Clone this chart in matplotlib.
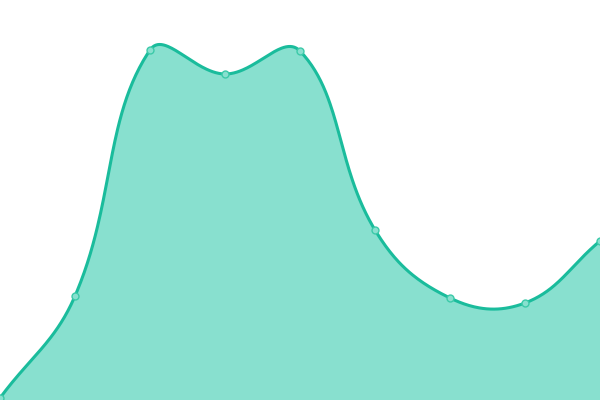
import numpy as np
import matplotlib
matplotlib.use("Agg")
import matplotlib.pyplot as plt

labels = ["A", "B", "C", "D", "E", "F", "G", "H", "I"]
values = [2, 104, 350, 326, 349, 170, 102, 97, 159]

LINE = "#1abc9c"
FILL = "#88e0cf"

fig = plt.figure(figsize=(6, 4), dpi=100)
ax = fig.add_axes([0, 0, 1, 1])
ax.set_xlim(0, len(values) - 1)
ax.set_ylim(0, 400)
ax.axis("off")

xs = np.arange(len(values), dtype=float)
pts = ax.transData.transform(np.column_stack([xs, values]))

# Chart.js style spline (tension 0.4) in display space
t = 0.4
n = len(pts)
cp_prev = np.zeros_like(pts)
cp_next = np.zeros_like(pts)
for i in range(n):
    prev = pts[i - 1] if i > 0 else pts[i]
    cur = pts[i]
    nxt = pts[i + 1] if i < n - 1 else pts[i]
    d01 = np.hypot(*(cur - prev))
    d12 = np.hypot(*(nxt - cur))
    tot = d01 + d12
    s01 = d01 / tot if tot else 0
    s12 = d12 / tot if tot else 0
    cp_prev[i] = cur - t * s01 * (nxt - prev)
    cp_next[i] = cur + t * s12 * (nxt - prev)

curve = []
tt = np.linspace(0, 1, 60)[:, None]
for i in range(n - 1):
    p0, p1, p2, p3 = pts[i], cp_next[i], cp_prev[i + 1], pts[i + 1]
    seg = ((1 - tt) ** 3) * p0 + 3 * tt * (1 - tt) ** 2 * p1 + 3 * tt ** 2 * (1 - tt) * p2 + tt ** 3 * p3
    curve.append(seg if i == 0 else seg[1:])
curve = np.vstack(curve)
data_curve = ax.transData.inverted().transform(curve)

ax.fill_between(data_curve[:, 0], data_curve[:, 1], 0, color=FILL, linewidth=0)
ax.plot(data_curve[:, 0], data_curve[:, 1], color=LINE, linewidth=2.2, solid_capstyle="round")
ax.plot(xs, values, linestyle="none", marker="o", markersize=5,
        markerfacecolor=FILL, markeredgecolor="#3ccaa9", markeredgewidth=1)

fig.savefig("out.png", dpi=100)
